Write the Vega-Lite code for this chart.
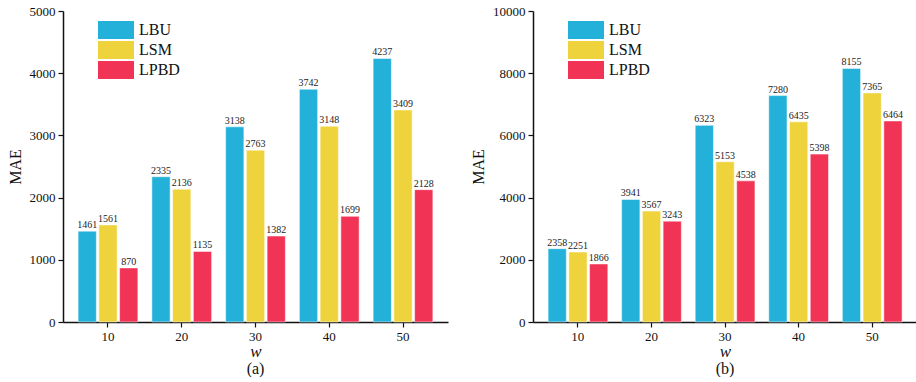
{
  "$schema": "https://vega.github.io/schema/vega-lite/v6.json",
  "padding": {"left": 7, "top": 5, "right": 0, "bottom": 0},
  "background": "white",
  "datasets": {
    "a": [
      {"w": 10, "method": "LBU", "mae": 1461}, {"w": 10, "method": "LSM", "mae": 1561}, {"w": 10, "method": "LPBD", "mae": 870},
      {"w": 20, "method": "LBU", "mae": 2335}, {"w": 20, "method": "LSM", "mae": 2136}, {"w": 20, "method": "LPBD", "mae": 1135},
      {"w": 30, "method": "LBU", "mae": 3138}, {"w": 30, "method": "LSM", "mae": 2763}, {"w": 30, "method": "LPBD", "mae": 1382},
      {"w": 40, "method": "LBU", "mae": 3742}, {"w": 40, "method": "LSM", "mae": 3148}, {"w": 40, "method": "LPBD", "mae": 1699},
      {"w": 50, "method": "LBU", "mae": 4237}, {"w": 50, "method": "LSM", "mae": 3409}, {"w": 50, "method": "LPBD", "mae": 2128}
    ],
    "b": [
      {"w": 10, "method": "LBU", "mae": 2358}, {"w": 10, "method": "LSM", "mae": 2251}, {"w": 10, "method": "LPBD", "mae": 1866},
      {"w": 20, "method": "LBU", "mae": 3941}, {"w": 20, "method": "LSM", "mae": 3567}, {"w": 20, "method": "LPBD", "mae": 3243},
      {"w": 30, "method": "LBU", "mae": 6323}, {"w": 30, "method": "LSM", "mae": 5153}, {"w": 30, "method": "LPBD", "mae": 4538},
      {"w": 40, "method": "LBU", "mae": 7280}, {"w": 40, "method": "LSM", "mae": 6435}, {"w": 40, "method": "LPBD", "mae": 5398},
      {"w": 50, "method": "LBU", "mae": 8155}, {"w": 50, "method": "LSM", "mae": 7365}, {"w": 50, "method": "LPBD", "mae": 6464}
    ]
  },
  "config": {
    "view": {"stroke": null},
    "font": "'Liberation Serif'",
    "axis": {
      "grid": false,
      "domainColor": "#111",
      "domainWidth": 1.5,
      "tickColor": "#111",
      "tickWidth": 1.2,
      "tickSize": 5,
      "labelFont": "'Liberation Serif'",
      "labelFontSize": 13,
      "labelColor": "#111",
      "titleFont": "'Liberation Serif'",
      "titleFontWeight": "normal",
      "titleColor": "#111"
    },
    "legend": {
      "orient": "none",
      "legendX": 44,
      "legendY": 10,
      "padding": 0,
      "title": null,
      "symbolType": "M-2,-1H2V1H-2Z",
      "symbolSize": 324,
      "symbolStrokeWidth": 0,
      "symbolOpacity": 1,
      "rowPadding": 2,
      "labelOffset": 14,
      "labelFont": "'Liberation Serif'",
      "labelFontSize": 16,
      "labelColor": "#111"
    },
    "title": {"font": "'Liberation Serif'", "fontSize": 16, "fontWeight": "normal", "color": "#111"}
  },
  "resolve": {"scale": {"color": "independent", "y": "independent"}, "legend": {"color": "independent"}},
  "spacing": 22,
  "hconcat": [
    {
      "width": 385,
      "height": 311,
      "data": {"name": "a"},
      "title": {"text": "(a)", "orient": "bottom", "offset": 2},
      "encoding": {
        "x": {"field": "w", "type": "ordinal", "title": "w",
              "scale": {"paddingInner": 0.19, "paddingOuter": 0.205},
              "axis": {"labelAngle": 0, "labelPadding": 3, "titlePadding": 0, "titleFontSize": 17, "titleFontStyle": "italic"}},
        "xOffset": {"field": "method", "type": "nominal", "sort": ["LBU", "LSM", "LPBD"], "scale": {"paddingInner": 0.12, "paddingOuter": 0}},
        "y": {"field": "mae", "type": "quantitative", "title": "MAE",
              "scale": {"domain": [0, 5000]},
              "axis": {"values": [0, 1000, 2000, 3000, 4000, 5000], "format": "d", "labelPadding": 3, "titlePadding": 6, "titleFontSize": 16}}
      },
      "layer": [
        {"mark": {"type": "bar", "stroke": "white", "strokeOpacity": 0.5, "strokeWidth": 1},
         "encoding": {"color": {"field": "method", "type": "nominal",
                                "scale": {"domain": ["LBU", "LSM", "LPBD"], "range": ["#23b1d9", "#efd33c", "#f13455"]}}}},
        {"mark": {"type": "text", "baseline": "bottom", "dy": -1, "fontSize": 10, "color": "#222", "font": "'Liberation Serif'"},
         "encoding": {"text": {"field": "mae", "type": "quantitative", "format": "d"}}}
      ]
    },
    {
      "width": 384,
      "height": 311,
      "data": {"name": "b"},
      "title": {"text": "(b)", "orient": "bottom", "offset": 2},
      "encoding": {
        "x": {"field": "w", "type": "ordinal", "title": "w",
              "scale": {"paddingInner": 0.19, "paddingOuter": 0.205},
              "axis": {"labelAngle": 0, "labelPadding": 3, "titlePadding": 0, "titleFontSize": 17, "titleFontStyle": "italic"}},
        "xOffset": {"field": "method", "type": "nominal", "sort": ["LBU", "LSM", "LPBD"], "scale": {"paddingInner": 0.12, "paddingOuter": 0}},
        "y": {"field": "mae", "type": "quantitative", "title": "MAE",
              "scale": {"domain": [0, 10000]},
              "axis": {"values": [0, 2000, 4000, 6000, 8000, 10000], "format": "d", "labelPadding": 3, "titlePadding": 6, "titleFontSize": 16}}
      },
      "layer": [
        {"mark": {"type": "bar", "stroke": "white", "strokeOpacity": 0.5, "strokeWidth": 1},
         "encoding": {"color": {"field": "method", "type": "nominal",
                                "scale": {"domain": ["LBU", "LSM", "LPBD"], "range": ["#23b1d9", "#efd33c", "#f13455"]}}}},
        {"mark": {"type": "text", "baseline": "bottom", "dy": -1, "fontSize": 10, "color": "#222", "font": "'Liberation Serif'"},
         "encoding": {"text": {"field": "mae", "type": "quantitative", "format": "d"}}}
      ]
    }
  ]
}
